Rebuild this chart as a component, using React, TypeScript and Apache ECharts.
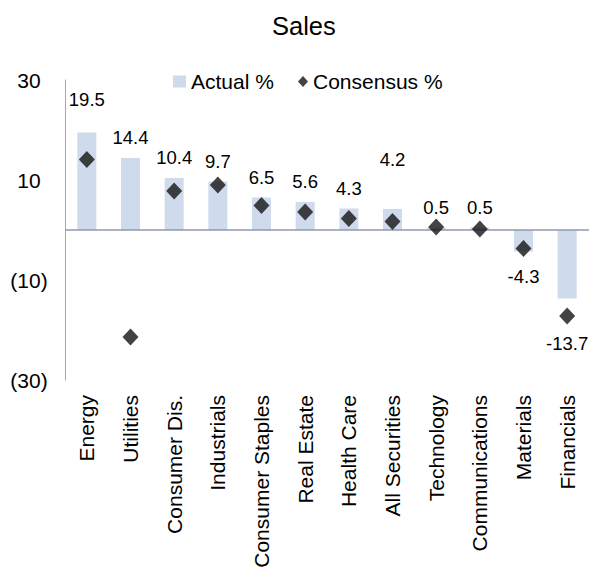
import React, { useEffect, useRef } from "react";
import * as echarts from "echarts";

const categories = [
  "Energy",
  "Utilities",
  "Consumer Dis.",
  "Industrials",
  "Consumer Staples",
  "Real Estate",
  "Health Care",
  "All Securities",
  "Technology",
  "Communications",
  "Materials",
  "Financials",
];
const actualPct = [19.5, 14.4, 10.4, 9.7, 6.5, 5.6, 4.3, 4.2, 0.5, 0.5, -4.3, -13.7];
const consensusPct = [14.1, -21.4, 7.8, 9.0, 4.9, 3.6, 2.3, 1.7, 0.6, 0.2, -3.7, -17.2];
const yTicks = [-30, -10, 10, 30];

// extra label lift (px) per category, a styling tweak
const labelLift = [13, 0, 0, 0, 0, 0, 0, 29, 0, 0, 4, 24];

const FONT = "'Liberation Sans', Arial, sans-serif";

export default function App() {
  const ref = useRef<HTMLDivElement>(null);
  useEffect(() => {
    if (!ref.current) return;
    const chart = echarts.init(ref.current, undefined, { renderer: "svg" });
    const barData = actualPct.map((v, i) => ({
      value: v,
      label: {
        position: v < 0 ? "bottom" : "top",
        offset: [0, v < 0 ? labelLift[i] : -labelLift[i]],
      },
    }));
    chart.setOption({
      animation: false,
      textStyle: { fontFamily: FONT },
      title: {
        text: "Sales",
        left: 267,
        top: 8,
        textStyle: { fontFamily: FONT, fontSize: 25.5, fontWeight: "normal", color: "#000" },
      },
      legend: [
        {
          data: [{ name: "Actual %", icon: "rect" }],
          left: 168,
          top: 66,
          itemWidth: 13,
          itemHeight: 12,
          textStyle: { fontFamily: FONT, fontSize: 21, color: "#000" },
        },
        {
          data: [{ name: "Consensus %", icon: "diamond" }],
          left: 293,
          top: 66,
          itemWidth: 10,
          itemHeight: 11,
          textStyle: { fontFamily: FONT, fontSize: 21, color: "#000" },
        },
      ],
      grid: { left: 65, top: 80, height: 300, width: 530, containLabel: false },
      xAxis: {
        type: "category",
        data: categories,
        position: "bottom",
        axisLine: { show: false, onZero: false },
        axisTick: { show: false },
        axisLabel: {
          rotate: 90,
          margin: 15,
          interval: 0,
          fontFamily: FONT,
          fontSize: 21,
          color: "#000",
        },
      },
      yAxis: {
        type: "value",
        min: yTicks[0],
        max: yTicks[yTicks.length - 1],
        interval: yTicks[1] - yTicks[0],
        splitLine: { show: false },
        axisTick: { show: false },
        axisLine: { show: true, lineStyle: { color: "#a3a8b4", width: 1 } },
        axisLabel: {
          margin: 36,
          align: "center",
          fontFamily: FONT,
          fontSize: 21,
          color: "#000",
          formatter: (v: number) => (v < 0 ? `(${-v})` : `${v}`),
        },
      },
      series: [
        {
          name: "Actual %",
          type: "bar",
          data: barData,
          barWidth: 19,
          itemStyle: { color: "#cfdbec" },
          label: {
            show: true,
            distance: 11.5,
            fontFamily: FONT,
            fontSize: 18.5,
            lineHeight: 18,
            color: "#000",
            formatter: (p: any) => `${p.value}`,
          },
          markLine: {
            silent: true,
            symbol: "none",
            label: { show: false },
            lineStyle: { color: "#8f99ad", width: 1.5, type: "solid" },
            data: [{ yAxis: 0 }],
          },
          z: 2,
        },
        {
          name: "Consensus %",
          type: "scatter",
          data: consensusPct,
          symbol: "diamond",
          symbolSize: [16, 17],
          itemStyle: { color: "#141414" },
          z: 5,
        },
      ],
    });
    return () => chart.dispose();
  }, []);
  return (
    <div
      ref={ref}
      style={{ position: "absolute", left: 0, top: 0, width: 589, height: 578 }}
    />
  );
}
